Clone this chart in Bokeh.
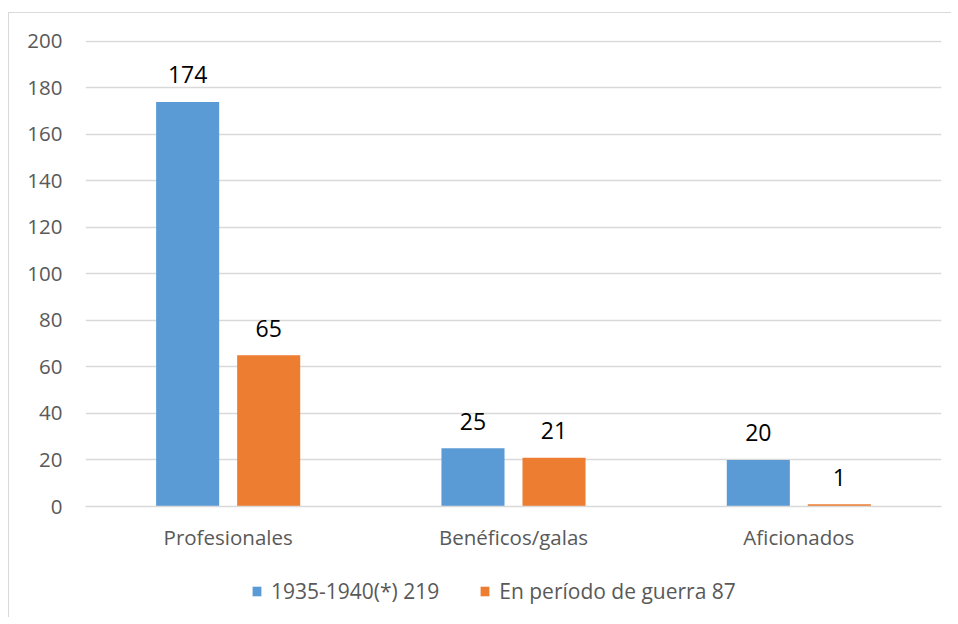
from bokeh.plotting import figure
from bokeh.layouts import column
from bokeh.models import ColumnDataSource, Legend, LegendItem, FactorRange
from bokeh.transform import dodge
from bokeh.core.properties import value
from bokeh.embed import file_html
from bokeh.resources import INLINE

categories = ["Profesionales", "Benéficos/galas", "Aficionados"]
series_a = [174, 25, 20]
series_b = [65, 21, 1]
legend_labels = ["1935-1940(*) 219", "En período de guerra 87"]
y_ticks = [0, 20, 40, 60, 80, 100, 120, 140, 160, 180, 200]

BLUE = "#5B9BD5"
ORANGE = "#ED7D31"
GRID = "#D9D9D9"
TXT = "#595959"
FONT = "Open Sans"

src = ColumnDataSource(dict(
    cat=categories,
    a=series_a,
    b=series_b,
    a_txt=[str(v) for v in series_a],
    b_txt=[str(v) for v in series_b],
))

p = figure(
    x_range=FactorRange(*categories, range_padding=0),
    y_range=(0, 200.4),
    width=942, height=553,
    output_backend="svg", toolbar_location=None,
    min_border_left=76, min_border_right=10,
    min_border_top=27, min_border_bottom=60,
)
p.outline_line_color = None
p.background_fill_color = "white"
p.border_fill_color = "white"

off = 0.142
w = 0.221
ra = p.vbar(x=dodge("cat", -off, range=p.x_range), top="a", width=w, bottom=0,
            source=src, fill_color=BLUE, line_color=None)
rb = p.vbar(x=dodge("cat", off, range=p.x_range), top="b", width=w, bottom=0,
            source=src, fill_color=ORANGE, line_color=None)

for col, txt, dx in (("a", "a_txt", -off), ("b", "b_txt", off)):
    p.text(x=dodge("cat", dx, range=p.x_range), y=col, text=txt, source=src,
           text_align="center", text_baseline="alphabetic", y_offset=-27,
           text_font=value(FONT), text_font_size="23px", text_color="#000000")

p.xgrid.grid_line_color = None
p.ygrid.grid_line_color = GRID
p.ygrid.grid_line_width = 1.3
p.ygrid.ticker = y_ticks

p.yaxis.ticker = y_ticks
p.yaxis.axis_line_color = None
p.yaxis.major_tick_line_color = None
p.yaxis.minor_tick_line_color = None
p.yaxis.major_label_standoff = 17
p.yaxis.major_label_text_font = FONT
p.yaxis.major_label_text_font_size = "20.5px"
p.yaxis.major_label_text_color = TXT

p.xaxis.axis_line_color = GRID
p.xaxis.axis_line_width = 1.3
p.xaxis.major_tick_line_color = None
p.xaxis.minor_tick_line_color = None
p.xaxis.major_label_standoff = 10
p.xaxis.major_label_text_font = FONT
p.xaxis.major_label_text_font_size = "20.5px"
p.xaxis.major_label_text_color = TXT

# legend strip below the chart: legend proxies of the same series (zero-height, not visible)
q = figure(width=942, height=51, x_range=FactorRange(*categories, range_padding=0),
           y_range=(1000, 1001),
           output_backend="svg", toolbar_location=None,
           x_axis_type=None, y_axis_type=None,
           min_border_left=0, min_border_right=0, min_border_top=0, min_border_bottom=0)
q.outline_line_color = None
q.xgrid.grid_line_color = None
q.ygrid.grid_line_color = None
q.background_fill_color = "white"
q.border_fill_color = "white"
la = q.vbar(x=dodge("cat", -off, range=q.x_range), top="a", bottom="a", width=w,
            source=src, fill_color=BLUE, line_color=None)
lb = q.vbar(x=dodge("cat", off, range=q.x_range), top="b", bottom="b", width=w,
            source=src, fill_color=ORANGE, line_color=None)

legend = Legend(
    items=[LegendItem(label=legend_labels[0], renderers=[la]),
           LegendItem(label=legend_labels[1], renderers=[lb])],
    orientation="horizontal",
    location=(166, 12),
    glyph_width=11, glyph_height=12,
    label_standoff=9, spacing=40,
    padding=0, margin=0,
    border_line_color=None, background_fill_alpha=0,
    label_text_font=FONT, label_text_font_size="21px", label_text_color=TXT,
    label_height=20,
)
q.add_layout(legend, "center")

layout = column(p, q, spacing=0)
layout.styles = {"border-top": "1px solid #D9D9D9", "border-left": "1px solid #D9D9D9",
                 "margin-top": "12px", "margin-left": "8px"}

open("out.html", "w").write(file_html(layout, INLINE))
